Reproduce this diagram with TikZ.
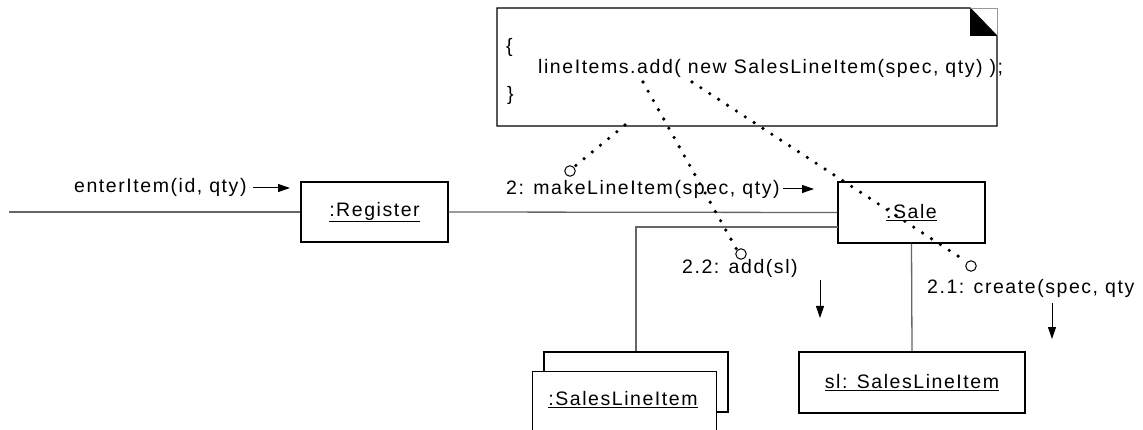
\documentclass[tikz,border=0pt]{standalone}
\usepackage{fontspec}
\setmainfont{Liberation Sans}[LetterSpace=8]
\usetikzlibrary{arrows.meta}
\definecolor{conncol}{gray}{0.4}
\tikzset{
  objbox/.style={draw=black, line width=1.1pt, fill=white, inner sep=0pt},
  conn/.style={draw=conncol, line width=1.3pt},
  msgarrow/.style={draw=black, line width=1pt, -{Triangle[length=12pt,width=8pt]}},
  lbl/.style={inner sep=0pt, anchor=west},
  dots/.style={draw=black, line width=3.6pt, line cap=round, dash pattern=on 0pt off 10.6pt},
  anchorcirc/.style={draw=black, fill=white, line width=1pt, circle, minimum size=10.5pt, inner sep=0pt},
}
\begin{document}
\begin{tikzpicture}[x=1pt, y=-1pt, font=\fontsize{19.5}{23}\selectfont]
\useasboundingbox (0,0) rectangle (1143,430);

% note with folded corner
\coordinate (nTL) at (497,8);
\coordinate (nTR) at (997,8);
\coordinate (nBR) at (997,126);
\coordinate (nBL) at (497,126);
\coordinate (fA) at (970,8);
\coordinate (fB) at (970,36);
\coordinate (fC) at (997,36);
\draw[line width=1.1pt, fill=white] (nTL) -- (fA) -- (fC) -- (nBR) -- (nBL) -- cycle;
\draw[line width=0.6pt, draw=black!40] (fA) -- (nTR) -- (fC);
\fill[black] (fA) -- (fC) -- (fB) -- cycle;
\node[lbl] (brace1) at (506,47) {\{};
\node[lbl] (code) at (538,68) {lineItems.add( new SalesLineItem(spec, qty) );};
\node[lbl] (brace2) at (507,95) {\}};

% objects
\node[objbox, minimum width=147pt, minimum height=60pt] (reg) at (374.5,212) {\underline{:Register}};
\node[objbox, minimum width=147pt, minimum height=61pt] (sale) at (911.5,212.5) {\underline{:Sale}};
\node[objbox, minimum width=226pt, minimum height=61pt] (sl) at (912,382.5) {\underline{sl: SalesLineItem}};
\node[objbox, minimum width=184pt, minimum height=60pt] (mback) at (636,382) {};
\node[objbox, minimum width=184pt, minimum height=70pt, anchor=north west] (mfront) at (532,371) {};
\node[inner sep=0pt] (mlabel) at (623,400) {\underline{:SalesLineItem}};

% links
\coordinate (start) at (9,212);
\draw[conn] (start) -- (reg.west);
\draw[conn] (reg.east) -- (sale.west);
\coordinate (saleL) at (838,227);
\draw[conn] (saleL) -| (mback.north);
\draw[conn] (sale.south) -- (sl.north);

% messages
\node[lbl] (m1) at (74,187) {enterItem(id, qty)};
\coordinate (a1s) at (253,188);
\coordinate (a1e) at (290,188);
\draw[msgarrow] (a1s) -- (a1e);

\node[lbl] (m2) at (506,189) {2: makeLineItem(spec, qty)};
\coordinate (a2s) at (783,189);
\coordinate (a2e) at (814,189);
\draw[msgarrow] (a2s) -- (a2e);

\node[lbl] (m3) at (682,268) {2.2: add(sl)};
\coordinate (a3s) at (820,280);
\coordinate (a3e) at (820,318);
\draw[msgarrow] (a3s) -- (a3e);

\node[lbl] (m4) at (927,288) {2.1: create(spec, qty};
\coordinate (a4s) at (1052,303);
\coordinate (a4e) at (1052,339);
\draw[msgarrow] (a4s) -- (a4e);

% note anchors
\coordinate (d1) at (625,125);
\coordinate (d2) at (643,82);
\coordinate (d3) at (692,82);
\node[anchorcirc] (c1) at (570,171) {};
\node[anchorcirc] (c2) at (741,254) {};
\node[anchorcirc] (c3) at (971,266) {};
\draw[dots] (d1) -- (c1.north east);
\draw[dots] (d2) -- (c2.north west);
\draw[dots] (d3) -- (c3.north west);
\end{tikzpicture}
\end{document}
